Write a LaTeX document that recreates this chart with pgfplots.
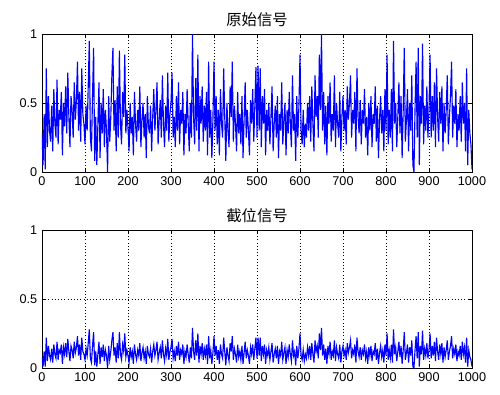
\documentclass[border=0pt]{standalone}
\usepackage{pgfplots}
\usepackage{pgfplotstable}
\pgfplotsset{compat=1.18}
\usepackage{fontspec}
\setmainfont{Liberation Sans}
\newfontfamily\cjk{Noto Sans CJK SC}

\pgfplotstableread[header=false,row sep=\\]{
0.28\\0.05\\0.42\\0.02\\0.75\\0.18\\0.55\\0.30\\0.22\\0.48\\0.15\\0.60\\0.35\\0.25\\0.67\\0.20\\0.45\\0.38\\0.58\\0.12\\0.50\\0.33\\0.62\\0.28\\0.72\\0.40\\0.18\\0.55\\0.45\\0.25\\0.65\\0.38\\0.52\\0.80\\0.30\\0.58\\0.22\\0.75\\0.42\\0.35\\
0.20\\0.48\\0.30\\0.62\\0.95\\0.25\\0.15\\0.55\\0.90\\0.08\\0.40\\0.05\\0.35\\0.65\\0.10\\0.50\\0.28\\0.60\\0.18\\0.45\\0.30\\0.00\\0.55\\0.22\\0.40\\0.70\\0.90\\0.30\\0.52\\0.15\\0.62\\0.25\\0.88\\0.35\\0.20\\0.58\\0.40\\0.85\\0.28\\0.45\\
0.32\\0.15\\0.50\\0.28\\0.40\\0.12\\0.58\\0.35\\0.22\\0.45\\0.30\\0.62\\0.18\\0.38\\0.50\\0.25\\0.42\\0.10\\0.55\\0.33\\0.28\\0.48\\0.15\\0.40\\0.60\\0.30\\0.45\\0.65\\0.20\\0.38\\0.52\\0.25\\0.70\\0.35\\0.18\\0.48\\0.30\\0.72\\0.22\\0.42\\
0.50\\0.72\\0.25\\0.40\\0.18\\0.55\\0.30\\0.65\\0.20\\0.45\\0.35\\0.58\\0.12\\0.42\\0.28\\0.60\\0.35\\0.15\\0.50\\0.25\\1.00\\0.40\\0.20\\0.68\\0.30\\0.85\\0.15\\0.55\\0.35\\0.62\\0.22\\0.48\\0.30\\0.58\\0.12\\0.80\\0.25\\0.45\\0.10\\0.38\\
0.80\\0.30\\0.55\\0.20\\0.45\\0.12\\0.60\\0.35\\0.25\\0.75\\0.40\\0.08\\0.50\\0.30\\0.18\\0.62\\0.40\\0.80\\0.22\\0.48\\0.35\\0.15\\0.58\\0.28\\0.42\\0.20\\0.55\\0.10\\0.38\\0.65\\0.25\\0.45\\0.30\\0.12\\0.52\\0.35\\0.60\\0.22\\0.48\\0.76\\
0.25\\0.77\\0.30\\0.75\\0.18\\0.55\\0.35\\0.60\\0.12\\0.45\\0.30\\0.50\\0.20\\0.40\\0.62\\0.15\\0.35\\0.48\\0.25\\0.55\\0.10\\0.42\\0.30\\0.65\\0.20\\0.38\\0.50\\0.12\\0.45\\0.28\\0.58\\0.35\\0.18\\0.70\\0.30\\0.42\\0.08\\0.55\\0.25\\0.48\\
0.85\\0.30\\0.20\\0.45\\0.18\\0.35\\0.25\\0.50\\0.30\\0.55\\0.22\\0.62\\0.35\\0.15\\0.70\\0.40\\0.55\\0.25\\0.85\\0.45\\1.00\\0.30\\0.58\\0.20\\0.48\\0.12\\0.55\\0.35\\0.65\\0.22\\0.42\\0.30\\0.70\\0.18\\0.50\\0.35\\0.25\\0.58\\0.15\\0.40\\
0.55\\0.30\\0.45\\0.20\\0.62\\0.38\\0.50\\0.70\\0.25\\0.45\\0.35\\0.58\\0.15\\0.75\\0.40\\0.28\\0.52\\0.20\\0.45\\0.35\\0.60\\0.25\\0.40\\0.12\\0.50\\0.30\\0.55\\0.18\\0.42\\0.35\\0.62\\0.22\\0.48\\0.10\\0.38\\0.55\\0.28\\0.45\\0.15\\0.60\\
0.30\\0.85\\0.20\\0.45\\0.25\\0.60\\0.15\\0.95\\0.35\\0.50\\0.18\\0.40\\0.65\\0.28\\0.55\\0.10\\0.45\\0.90\\0.22\\0.38\\0.60\\0.15\\0.50\\0.30\\0.70\\0.05\\0.00\\0.45\\0.80\\0.25\\0.90\\0.05\\0.55\\0.35\\0.93\\0.20\\0.48\\0.30\\0.62\\0.25\\
0.45\\0.85\\0.25\\0.55\\0.30\\0.65\\0.18\\0.75\\0.40\\0.22\\0.58\\0.35\\0.62\\0.15\\0.50\\0.28\\0.45\\0.70\\0.20\\0.40\\0.55\\0.80\\0.25\\0.48\\0.35\\0.60\\0.18\\0.42\\0.30\\0.55\\0.22\\0.65\\0.35\\0.50\\0.15\\0.75\\0.05\\0.45\\0.28\\0.20\\
0.02\\
}\orig

\pgfplotstableread[header=false,row sep=\\]{
0.08\\0.01\\0.12\\0.01\\0.22\\0.05\\0.16\\0.09\\0.06\\0.14\\0.04\\0.17\\0.10\\0.07\\0.19\\0.06\\0.13\\0.11\\0.17\\0.03\\0.15\\0.10\\0.18\\0.08\\0.21\\0.12\\0.05\\0.16\\0.13\\0.07\\0.19\\0.11\\0.15\\0.23\\0.09\\0.17\\0.06\\0.22\\0.12\\0.10\\
0.06\\0.14\\0.09\\0.18\\0.28\\0.07\\0.04\\0.16\\0.26\\0.02\\0.12\\0.01\\0.10\\0.19\\0.03\\0.15\\0.08\\0.17\\0.05\\0.13\\0.09\\0.00\\0.16\\0.06\\0.12\\0.20\\0.26\\0.09\\0.15\\0.04\\0.18\\0.07\\0.26\\0.10\\0.06\\0.17\\0.12\\0.25\\0.08\\0.13\\
0.09\\0.04\\0.15\\0.08\\0.12\\0.03\\0.17\\0.10\\0.06\\0.13\\0.09\\0.18\\0.05\\0.11\\0.15\\0.07\\0.12\\0.03\\0.16\\0.10\\0.08\\0.14\\0.04\\0.12\\0.17\\0.09\\0.13\\0.19\\0.06\\0.11\\0.15\\0.07\\0.20\\0.10\\0.05\\0.14\\0.09\\0.21\\0.06\\0.12\\
0.15\\0.21\\0.07\\0.12\\0.05\\0.16\\0.09\\0.19\\0.06\\0.13\\0.10\\0.17\\0.03\\0.12\\0.08\\0.17\\0.10\\0.04\\0.15\\0.07\\0.29\\0.12\\0.06\\0.20\\0.09\\0.25\\0.04\\0.16\\0.10\\0.18\\0.06\\0.14\\0.09\\0.17\\0.03\\0.23\\0.07\\0.13\\0.03\\0.11\\
0.23\\0.09\\0.16\\0.06\\0.13\\0.03\\0.17\\0.10\\0.07\\0.22\\0.12\\0.02\\0.15\\0.09\\0.05\\0.18\\0.12\\0.23\\0.06\\0.14\\0.10\\0.04\\0.17\\0.08\\0.12\\0.06\\0.16\\0.03\\0.11\\0.19\\0.07\\0.13\\0.09\\0.03\\0.15\\0.10\\0.17\\0.06\\0.14\\0.22\\
0.07\\0.22\\0.09\\0.22\\0.05\\0.16\\0.10\\0.17\\0.03\\0.13\\0.09\\0.15\\0.06\\0.12\\0.18\\0.04\\0.10\\0.14\\0.07\\0.16\\0.03\\0.12\\0.09\\0.19\\0.06\\0.11\\0.15\\0.03\\0.13\\0.08\\0.17\\0.10\\0.05\\0.20\\0.09\\0.12\\0.02\\0.16\\0.07\\0.14\\
0.25\\0.09\\0.06\\0.13\\0.05\\0.10\\0.07\\0.15\\0.09\\0.16\\0.06\\0.18\\0.10\\0.04\\0.20\\0.12\\0.16\\0.07\\0.25\\0.13\\0.29\\0.09\\0.17\\0.06\\0.14\\0.03\\0.16\\0.10\\0.19\\0.06\\0.12\\0.09\\0.20\\0.05\\0.15\\0.10\\0.07\\0.17\\0.04\\0.12\\
0.16\\0.09\\0.13\\0.06\\0.18\\0.11\\0.15\\0.20\\0.07\\0.13\\0.10\\0.17\\0.04\\0.22\\0.12\\0.08\\0.15\\0.06\\0.13\\0.10\\0.17\\0.07\\0.12\\0.03\\0.15\\0.09\\0.16\\0.05\\0.12\\0.10\\0.18\\0.06\\0.14\\0.03\\0.11\\0.16\\0.08\\0.13\\0.04\\0.17\\
0.09\\0.25\\0.06\\0.13\\0.07\\0.17\\0.04\\0.28\\0.10\\0.15\\0.05\\0.12\\0.19\\0.08\\0.16\\0.03\\0.13\\0.26\\0.06\\0.11\\0.17\\0.04\\0.15\\0.09\\0.20\\0.01\\0.00\\0.13\\0.23\\0.07\\0.26\\0.01\\0.16\\0.10\\0.27\\0.06\\0.14\\0.09\\0.18\\0.07\\
0.13\\0.25\\0.07\\0.16\\0.09\\0.19\\0.05\\0.22\\0.12\\0.06\\0.17\\0.10\\0.18\\0.04\\0.15\\0.08\\0.13\\0.20\\0.06\\0.12\\0.16\\0.23\\0.07\\0.14\\0.10\\0.17\\0.05\\0.12\\0.09\\0.16\\0.06\\0.19\\0.10\\0.15\\0.04\\0.22\\0.01\\0.13\\0.08\\0.06\\
0.01\\
}\trunc

\pgfplotsset{
  myax/.style={
    scale only axis,
    width=322.5pt, height=103.5pt,
    xmin=0, xmax=1000, ymin=0, ymax=1,
    xtick={0,100,...,1000},
    ytick={0,0.5,1},
    yticklabels={0,0.5,1},
    tick align=inside,
    major tick length=3pt,
    xmajorgrids, ymajorgrids,
    major grid style={black, dotted, line width=0.5pt},
    axis line style={black, line width=0.5pt},
    tick style={black, line width=0.5pt},
    ticklabel style={font=\fontsize{9.5}{10}\selectfont},
    /pgf/number format/assume math mode=true,
    /pgf/number format/1000 sep={},
    title style={font=\cjk\fontsize{11.5}{13}\selectfont, yshift=-4pt},
    clip=true,
  }
}

\begin{document}
\begin{tikzpicture}
\useasboundingbox (-31.5pt,-166.5pt) rectangle (343.5pt,129pt);
\begin{axis}[myax, at={(0,0)}, anchor=origin, title={原始信号}]
\addplot[blue, line width=0.85pt, mark=none, line join=miter] table[x expr=\coordindex*2.5, y index=0]{\orig};
\end{axis}
\begin{axis}[myax, at={(0,-147pt)}, anchor=origin, title={截位信号}]
\addplot[blue, line width=0.85pt, mark=none, line join=miter] table[x expr=\coordindex*2.5, y index=0]{\trunc};
\end{axis}
\end{tikzpicture}
\end{document}
